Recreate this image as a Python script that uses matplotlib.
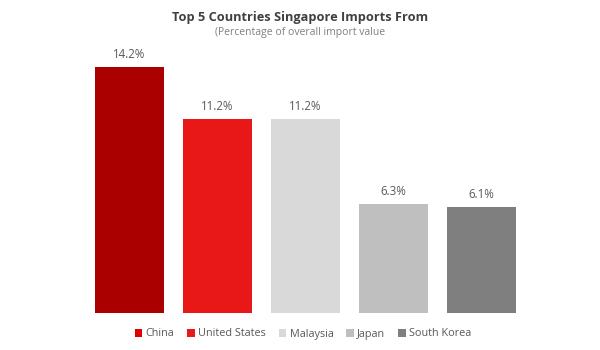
import matplotlib
matplotlib.use('Agg')
import matplotlib.pyplot as plt
from matplotlib.patches import Patch

countries = ["China", "United States", "Malaysia", "Japan", "South Korea"]
shares = [14.2, 11.2, 11.2, 6.3, 6.1]
labels = ["14.2%", "11.2%", "11.2%", "6.3%", "6.1%"]
colors = ["#AA0000", "#E81818", "#D9D9D9", "#BFBFBF", "#7F7F7F"]
legend_colors = ["#E00000", "#E81818", "#D9D9D9", "#BFBFBF", "#7F7F7F"]

plt.rcParams['font.family'] = ['Open Sans', 'DejaVu Sans']

fig = plt.figure(figsize=(6, 3.5), dpi=100)
ax = fig.add_axes([76.7 / 600, 1 - 313 / 350, 457.6 / 600, 259.5 / 350])

x = list(range(len(countries)))
bars = ax.bar(x, shares, width=0.795, color=colors)
for b, lab in zip(bars, labels):
    ax.text(b.get_x() + b.get_width() / 2, b.get_height() + 0.35, lab,
            ha="center", va="bottom", fontsize=8.3, color="#595959")

ax.set_xlim(-0.6, 4.6)
ax.set_ylim(0, 15)
ax.axis("off")

fig.text(0.5, 1 - 17 / 350, "Top 5 Countries Singapore Imports From",
         ha="center", va="center", fontsize=9.2, fontweight="bold", color="#404040")
fig.text(0.5, 1 - 33 / 350, "(Percentage of overall import value",
         ha="center", va="center", fontsize=7.5, color="#808080")

handles = [Patch(facecolor=c, edgecolor="none") for c in legend_colors]
fig.legend(handles, countries, loc="center", bbox_to_anchor=(0.505, 1 - 334 / 350),
           ncol=5, frameon=False, fontsize=7.8, handlelength=0.7, handleheight=0.7,
           handletextpad=0.3, columnspacing=1.2, labelcolor="#595959")

plt.savefig("out.png", dpi=100)
